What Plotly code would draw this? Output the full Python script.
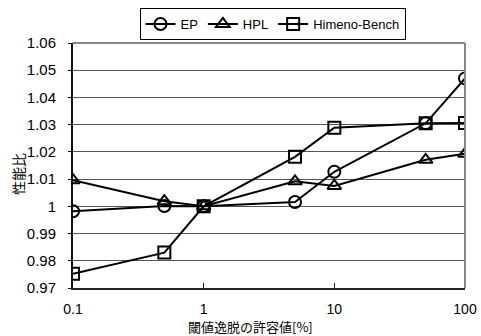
import plotly.graph_objects as go

x_vals = [0.1, 0.5, 1, 5, 10, 50, 100]
ep = [0.9982, 1.0001, 1.0, 1.0016, 1.0127, 1.0305, 1.047]
hpl = [1.0096, 1.0019, 1.0, 1.0092, 1.0075, 1.0171, 1.0193]
himeno = [0.9752, 0.9830, 1.0, 1.0182, 1.0289, 1.0305, 1.0306]

series_names = ["EP", "HPL", "Himeno-Bench"]
symbols = ["circle-open", "triangle-up-open", "square-open"]

y_ticks = [0.97, 0.98, 0.99, 1.0, 1.01, 1.02, 1.03, 1.04, 1.05, 1.06]
y_ticktext = ["0.97", "0.98", "0.99", "1", "1.01", "1.02", "1.03", "1.04", "1.05", "1.06"]
x_ticks = [0.1, 1, 10, 100]
x_ticktext = ["0.1", "1", "10", "100"]

x_title = "閾値逸脱の許容値[%]"
y_title = "性能比"

font_family = "Liberation Sans, Arial, Noto Sans CJK JP, sans-serif"

fig = go.Figure()
for name, ys, sym in zip(series_names, [ep, hpl, himeno], symbols):
    fig.add_trace(go.Scatter(
        x=x_vals, y=ys, name=name, mode="lines+markers",
        line=dict(color="black", width=2),
        marker=dict(symbol=sym, size=12, color="black", line=dict(width=2, color="black")),
    ))

fig.update_layout(
    width=481, height=336,
    margin=dict(l=73, r=16, t=43, b=48, autoexpand=False),
    paper_bgcolor="white", plot_bgcolor="white",
    font=dict(family=font_family, size=15, color="black"),
    showlegend=True,
    legend=dict(
        orientation="h", x=0.509, xanchor="center", y=1 + (43 - 24) / 245, yanchor="middle",
        bordercolor="black", borderwidth=1, bgcolor="white",
        font=dict(size=13, family=font_family), itemwidth=30,
        tracegroupgap=0,
    ),
)

fig.update_xaxes(
    type="log", range=[-1, 2],
    tickvals=x_ticks, ticktext=x_ticktext,
    tickfont=dict(size=14),
    showgrid=False, zeroline=False,
    showline=True, linecolor="#222", linewidth=2,
    ticks="inside", ticklen=5, tickcolor="#222", tickwidth=1,
    ticklabelstandoff=7,
    automargin=False,
    mirror=False,
)
fig.update_yaxes(
    range=[0.97, 1.06],
    tickvals=y_ticks, ticktext=y_ticktext,
    showgrid=True, gridcolor="#555", gridwidth=1,
    zeroline=False,
    showline=True, linecolor="#111", linewidth=2,
    ticks="outside", ticklen=3, tickcolor="#111",
    ticklabelstandoff=9,
    automargin=False,
)

# gray border on top and right of plot area
fig.add_shape(type="line", xref="paper", yref="paper", x0=0, x1=1, y0=1, y1=1,
              line=dict(color="#888", width=2))
fig.add_shape(type="line", xref="paper", yref="paper", x0=1, x1=1, y0=0, y1=1,
              line=dict(color="#888", width=2))

fig.add_annotation(text=x_title, xref="paper", yref="paper",
                   x=(250 - 73) / 392, y=-(326 - 288) / 245,
                   xanchor="center", yanchor="middle", showarrow=False,
                   font=dict(size=13, family="Noto Sans CJK JP, sans-serif"))
fig.add_annotation(text=y_title, xref="paper", yref="paper",
                   x=-(73 - 18) / 392, y=(288 - 174) / 245,
                   xanchor="center", yanchor="middle", showarrow=False, textangle=-90,
                   font=dict(size=14, family="Noto Sans CJK JP, sans-serif"))

fig.write_html("out.html", config={"displayModeBar": False},
               post_script="document.body.style.margin='0';")
